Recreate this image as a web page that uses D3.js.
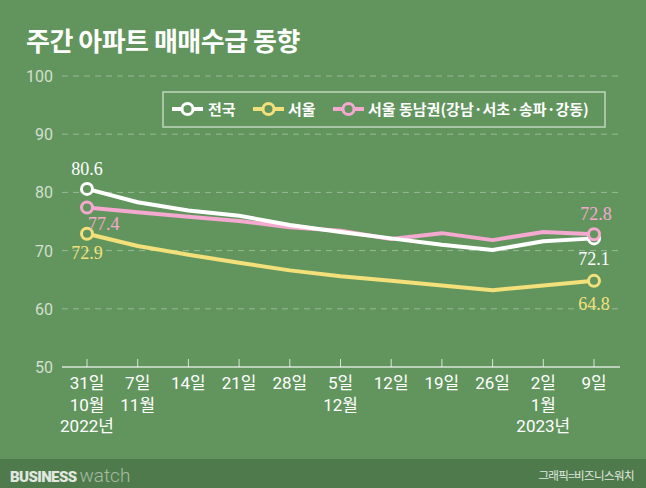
<!DOCTYPE html>
<html><head><meta charset="utf-8">
<script src="https://cdn.jsdelivr.net/npm/d3@7"></script>
<style>
html,body{margin:0;padding:0;background:#62955E;}
svg{display:block;}
.vlab{font-family:"Liberation Serif","DejaVu Serif","Times New Roman",serif;font-size:18px;}
</style></head>
<body>
<svg id="chart" width="646" height="488"></svg>
<script>
const categories = ["31일","7일","14일","21일","28일","5일","12일","19일","26일","2일","9일"];
const monthLabels = ["10월","11월","","","","12월","","","","1월",""];
const yearLabels = ["2022년","","","","","","","","","2023년",""];
const nationwide = [80.6, 78.3, 76.9, 76.0, 74.4, 73.2, 72.1, 71.0, 70.1, 71.6, 72.1];
const seoul      = [72.9, 70.8, 69.3, 67.9, 66.6, 65.6, 64.8, 64.0, 63.2, 64.0, 64.8];
const gangnam    = [77.4, 76.6, 75.8, 75.1, 74.0, 73.4, 72.0, 73.0, 71.8, 73.2, 72.8];
const yTicks = [50, 60, 70, 80, 90, 100];
const seriesNames = ["전국", "서울", "서울 동남권(강남·서초·송파·강동)"];

const BG = "#62955E";
const colors = ["#ffffff", "#F4E07A", "#F5A8D0"];
const sans = "Roboto, 'Noto Sans CJK KR', sans-serif";
const kr = "'Noto Sans CJK KR', sans-serif";

const svg = d3.select("#chart");
svg.append("rect").attr("width",646).attr("height",488).attr("fill",BG);
svg.append("rect").attr("x",0).attr("y",459).attr("width",646).attr("height",29).attr("fill","#4F7B4C");

// title
svg.append("text").attr("x",26).attr("y",51).attr("fill","#fff")
  .style("font-family",kr).style("font-weight",700).style("font-size","26px")
  .style("letter-spacing","-0.5px")
  .text("주간 아파트 매매수급 동향");

const x = d3.scalePoint().domain(categories).range([87, 594]);
const y = d3.scaleLinear().domain([50, 100]).range([367, 76]);

// grid lines
const gridG = svg.append("g");
yTicks.forEach(t => {
  gridG.append("line").attr("x1",62).attr("x2",620).attr("y1",y(t)).attr("y2",y(t))
    .attr("stroke", t===50 ? "rgba(255,255,255,0.75)" : "rgba(255,255,255,0.35)")
    .attr("stroke-width", t===50 ? 1.5 : 1)
    .attr("stroke-dasharray", t===50 ? null : "6,5");
  gridG.append("text").attr("x",53).attr("y",y(t)+6).attr("text-anchor","end")
    .attr("fill","#D3DFCF").style("font-family",sans).style("font-size","16px").text(t);
});

// x ticks
categories.forEach(c => {
  svg.append("line").attr("x1",x(c)).attr("x2",x(c)).attr("y1",y(50)).attr("y2",y(50)-8)
    .attr("stroke","rgba(255,255,255,0.75)").attr("stroke-width",1);
});
const xl = svg.append("g").attr("fill","#fff").style("font-family",sans).style("font-size","17px")
  .attr("text-anchor","middle");
categories.forEach((c,i) => {
  xl.append("text").attr("x",x(c)).attr("y",389).text(c);
  if (monthLabels[i]) xl.append("text").attr("x",x(c)).attr("y",411).text(monthLabels[i]);
  if (yearLabels[i]) xl.append("text").attr("x",x(c)).attr("y",432).text(yearLabels[i]);
});

// lines
const line = d3.line().x((d,i)=>x(categories[i])).y(d=>y(d));
const drawOrder = [[seoul,1],[gangnam,2],[nationwide,0]];
drawOrder.forEach(([data,ci]) => {
  svg.append("path").datum(data).attr("d",line).attr("fill","none")
    .attr("stroke",colors[ci]).attr("stroke-width",4).attr("stroke-linejoin","round").attr("stroke-linecap","round");
});
// end circles
[[seoul,1],[nationwide,0],[gangnam,2]].forEach(([data,ci]) => {
  [0, data.length-1].forEach(i => {
    svg.append("circle").attr("cx",x(categories[i])).attr("cy",y(data[i])).attr("r",5.5)
      .attr("fill",BG).attr("stroke",colors[ci]).attr("stroke-width",3);
  });
});

// value labels
const lab = (txt, xx, yy, col, anchor) => svg.append("text").attr("class","vlab").attr("x",xx).attr("y",yy)
  .attr("fill",col).attr("text-anchor",anchor||"middle").text(txt);
const last = categories.length-1;
lab(nationwide[0].toFixed(1), x(categories[0]), y(nationwide[0])-14, colors[0]);
lab(gangnam[0].toFixed(1), x(categories[0])+1, y(gangnam[0])+22, colors[2], "start");
lab(seoul[0].toFixed(1), x(categories[0]), y(seoul[0])+25, colors[1]);
lab(gangnam[last].toFixed(1), x(categories[last])+2, y(gangnam[last])-14, colors[2]);
lab(nationwide[last].toFixed(1), x(categories[last]), y(nationwide[last])+27, colors[0]);
lab(seoul[last].toFixed(1), x(categories[last]), y(seoul[last])+29, colors[1]);

// legend
const lg = svg.append("g");
lg.append("rect").attr("x",163).attr("y",92).attr("width",442).attr("height",35)
  .attr("fill","none").attr("stroke","rgba(255,255,255,0.6)").attr("stroke-width",1.5);
const legItems = [{x:172, tx:208, ci:0}, {x:253, tx:288, ci:1}, {x:333, tx:368, ci:2}];
legItems.forEach((it,k) => {
  lg.append("line").attr("x1",it.x).attr("x2",it.x+31).attr("y1",109).attr("y2",109)
    .attr("stroke",colors[it.ci]).attr("stroke-width",4);
  lg.append("circle").attr("cx",it.x+15.5).attr("cy",109).attr("r",5.5)
    .attr("fill",BG).attr("stroke",colors[it.ci]).attr("stroke-width",3);
  lg.append("text").attr("x",it.tx).attr("y",115).attr("fill","#fff")
    .style("font-family",kr).style("font-weight",700).style("font-size","15px")
    .text(seriesNames[it.ci]);
});

// footer
const ft = svg.append("text").attr("x",10).attr("y",482);
ft.append("tspan").attr("fill","#E2E8E0").style("font-family","Roboto, sans-serif")
  .style("font-weight",900).style("font-size","15px").style("letter-spacing","-0.6px").text("BUSINESS");
ft.append("tspan").attr("dx",3).attr("fill","#A9BBA6").style("font-family","Roboto, sans-serif")
  .style("font-weight",300).style("font-size","19px").text("watch");
svg.append("text").attr("x",634).attr("y",480).attr("text-anchor","end").attr("fill","#E2E8E0")
  .style("font-family",kr).style("font-size","11.5px").style("letter-spacing","-0.6px").text("그래픽=비즈니스워치");
</script>
</body></html>
